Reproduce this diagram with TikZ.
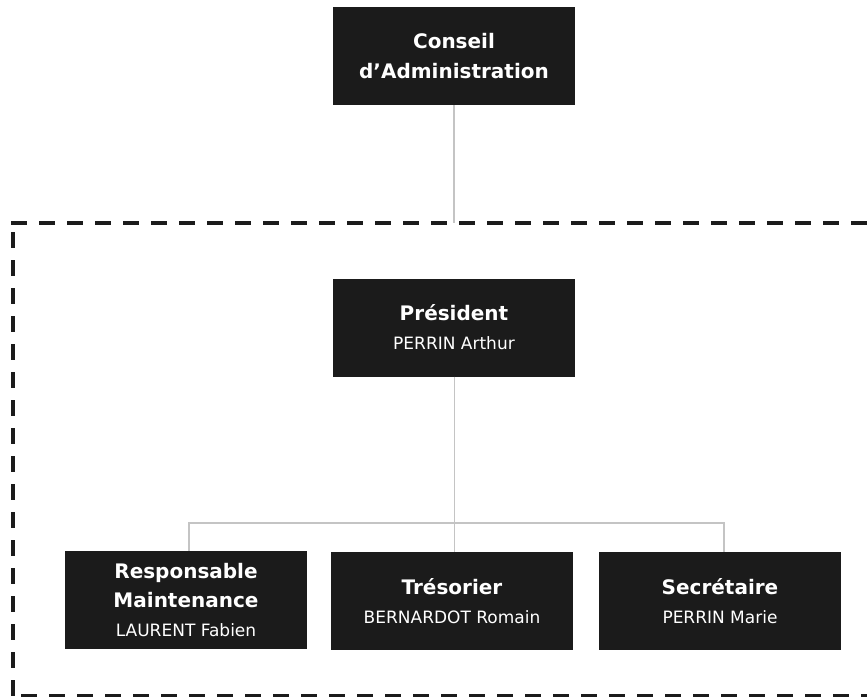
\documentclass[tikz,border=0pt]{standalone}
\usepackage{fontspec}
\setmainfont{DejaVu Sans}
\definecolor{boxfill}{HTML}{1B1B1B}
\definecolor{linkgray}{HTML}{C4C4C4}
\newcommand{\ttl}[1]{{\bfseries\fontsize{20}{29}\selectfont #1}}
\begin{document}
\begin{tikzpicture}[x=1pt,y=-1pt,
  orgbox/.style={fill=boxfill, draw=none, minimum width=242pt, minimum height=98pt,
    text=white, align=center, inner sep=0pt, font=\fontsize{17}{29}\selectfont},
  link/.style={draw=linkgray, line width=1.5pt},
  border/.style={draw=boxfill, line width=4pt, dash pattern=on 16pt off 12pt}]
\useasboundingbox (0,0) rectangle (867,696);
\clip (0,0) rectangle (867,696);
\node[orgbox, font=\fontsize{20}{30}\selectfont] (ca) at (454,56) {\ttl{Conseil}\\\ttl{d’Administration}};
\node[orgbox] (pres) at (454,327.5) {\ttl{Président}\\PERRIN Arthur};
\node[orgbox] (resp) at (186,600) {\ttl{Responsable}\\\ttl{Maintenance}\\LAURENT Fabien};
\node[orgbox] (tres) at (452,601) {\ttl{Trésorier}\\BERNARDOT Romain};
\node[orgbox] (secr) at (720,601) {\ttl{Secrétaire}\\PERRIN Marie};
\coordinate (top) at (454,223);
\coordinate (bar) at (454.5,523);
\draw[link] (ca.south) -- (top);
\draw[link] (pres.south -| bar) -- (bar);
\draw[link] (resp.north -| 189,0) |- (bar) -| (secr.north -| 724,0);
\draw[link] (bar) -- (tres.north -| bar);
\draw[border] (11,223) -- (880,223);
\draw[border, dash phase=19pt] (12.5,223) -- (12.5,700);
\draw[border, dash phase=19.5pt] (12.5,696) -- (880,696);
\end{tikzpicture}
\end{document}
